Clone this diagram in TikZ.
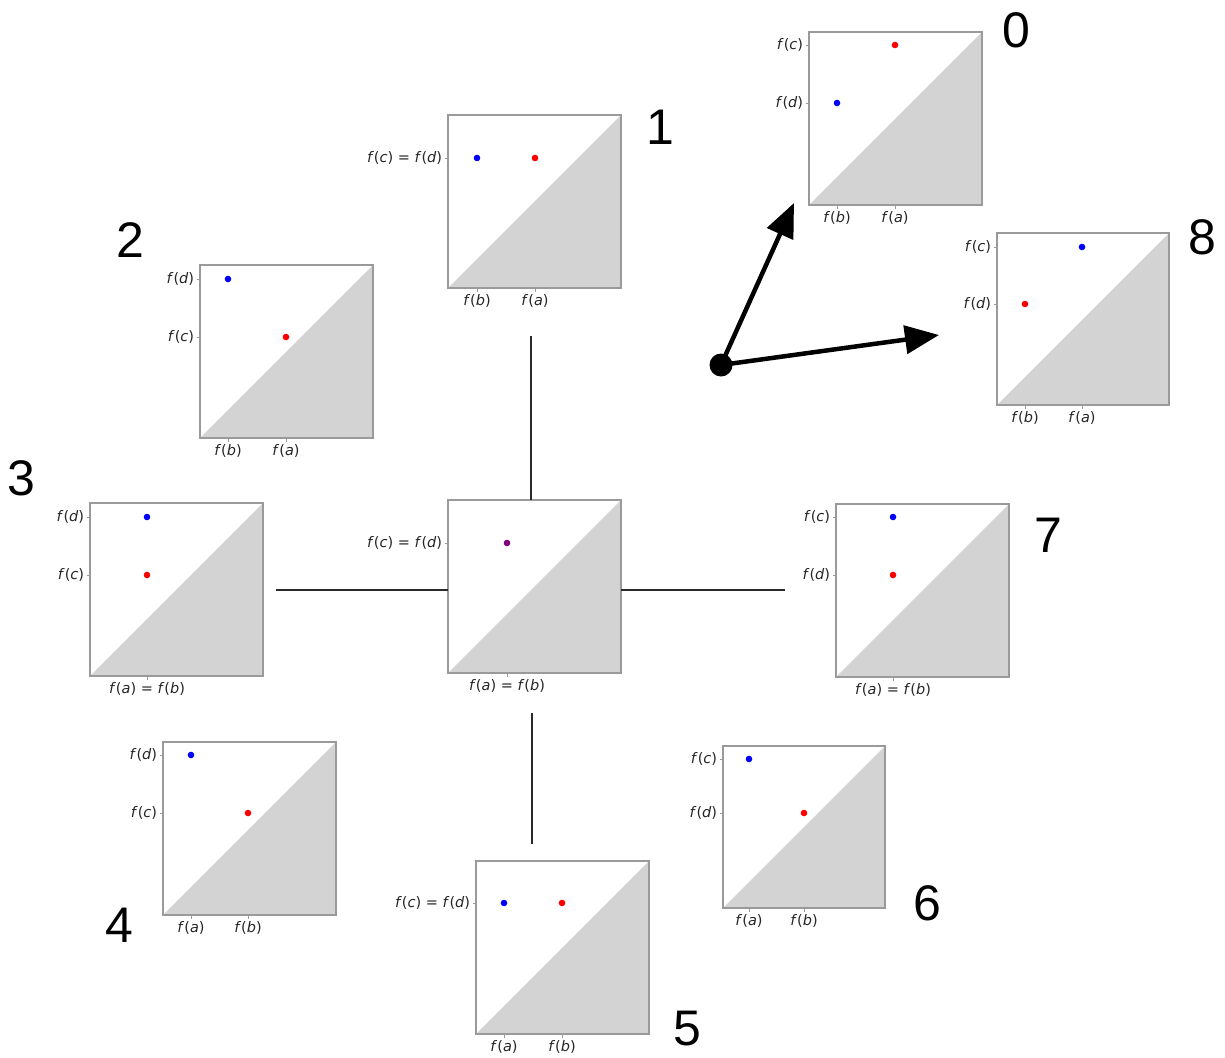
\documentclass[tikz,border=0pt]{standalone}
\usepackage{fontspec}
\usetikzlibrary{arrows.meta,calc}
\newfontfamily\labfont{DejaVu Sans}
\newfontfamily\numfont{Liberation Sans}
\definecolor{panelgray}{HTML}{D3D3D3}
\definecolor{framegray}{HTML}{9A9A9A}
\definecolor{mypurple}{RGB}{128,0,128}
\definecolor{linedark}{HTML}{2A2A2A}
\newcommand\fx[1]{\textit{f}(\textit{#1})}
\newcommand\Panel[4]{%
  \node[panelbox, minimum size=#4pt] (#1) at ({#2+#4/2},{#3+#4/2}) {};}
\newcommand\XT[3]{%
  \coordinate (xt) at (#2,0);
  \draw[tickline] (xt |- #1.south) -- ++(0,3.5) node[xlab] {#3};}
\newcommand\YT[3]{%
  \coordinate (yt) at (0,#2);
  \draw[tickline] (yt -| #1.west) -- ++(-3.5,0) node[ylab] {#3};}
\newcommand\Pt[3]{\fill[#1] (#2,#3) circle (3.3pt);}
\tikzset{
  panelbox/.style={draw=framegray, fill=white, line width=1.2pt, inner sep=0pt, outer sep=0pt,
    path picture={\fill[panelgray] (path picture bounding box.south west) -- (path picture bounding box.south east) -- (path picture bounding box.north east) -- cycle;}},
  tickline/.style={draw=framegray, line width=0.8pt},
  xlab/.style={anchor=north, inner sep=3pt, font=\labfont\fontsize{14.5}{16}\selectfont, text=black!85},
  ylab/.style={anchor=east, inner sep=2pt, font=\labfont\fontsize{14.5}{16}\selectfont, text=black!85},
  numlab/.style={font=\numfont\fontsize{50}{50}\selectfont, inner sep=0pt},
  connector/.style={draw=linedark, line width=2.2pt},
  bigarrow/.style={line width=4.5pt, -{Triangle[length=34pt,width=28pt]}},
}
\begin{document}
\begin{tikzpicture}[x=1pt,y=-1pt]
\fill[white] (0,0) rectangle (1225,1057);
\useasboundingbox (0,0) rectangle (1225,1057);

% panel 0
\Panel{p0}{809}{32}{173}
\XT{p0}{837}{\fx{b}} \XT{p0}{895}{\fx{a}}
\YT{p0}{45}{\fx{c}} \YT{p0}{103}{\fx{d}}
\Pt{red}{895}{45} \Pt{blue}{837}{103}
\node[numlab] (n0) at (1016,30) {0};

% panel 1
\Panel{p1}{448}{115}{173}
\XT{p1}{477}{\fx{b}} \XT{p1}{535}{\fx{a}}
\YT{p1}{158}{\fx{c} = \fx{d}}
\Pt{blue}{477}{158} \Pt{red}{535}{158}
\node[numlab] (n1) at (660,127) {1};

% panel 2
\Panel{p2}{200}{265}{173}
\XT{p2}{228}{\fx{b}} \XT{p2}{286}{\fx{a}}
\YT{p2}{279}{\fx{d}} \YT{p2}{337}{\fx{c}}
\Pt{blue}{228}{279} \Pt{red}{286}{337}
\node[numlab] (n2) at (130,240) {2};

% panel 3
\Panel{p3}{90}{503}{173}
\XT{p3}{147}{\fx{a} = \fx{b}}
\YT{p3}{517}{\fx{d}} \YT{p3}{575}{\fx{c}}
\Pt{blue}{147}{517} \Pt{red}{147}{575}
\node[numlab] (n3) at (21,478) {3};

% center panel
\Panel{pc}{448}{500}{173}
\XT{pc}{507}{\fx{a} = \fx{b}}
\YT{pc}{543}{\fx{c} = \fx{d}}
\Pt{mypurple}{507}{543}

% panel 4
\Panel{p4}{163}{742}{173}
\XT{p4}{191}{\fx{a}} \XT{p4}{248}{\fx{b}}
\YT{p4}{755}{\fx{d}} \YT{p4}{813}{\fx{c}}
\Pt{blue}{191}{755} \Pt{red}{248}{813}
\node[numlab] (n4) at (119,925) {4};

% panel 5
\Panel{p5}{476}{861}{173}
\XT{p5}{504}{\fx{a}} \XT{p5}{562}{\fx{b}}
\YT{p5}{903}{\fx{c} = \fx{d}}
\Pt{blue}{504}{903} \Pt{red}{562}{903}
\node[numlab] (n5) at (687,1029) {5};

% panel 6
\Panel{p6}{723}{746}{162}
\XT{p6}{749}{\fx{a}} \XT{p6}{804}{\fx{b}}
\YT{p6}{759}{\fx{c}} \YT{p6}{813}{\fx{d}}
\Pt{blue}{749}{759} \Pt{red}{804}{813}
\node[numlab] (n6) at (927,903) {6};

% panel 7
\Panel{p7}{836}{504}{173}
\XT{p7}{893}{\fx{a} = \fx{b}}
\YT{p7}{517}{\fx{c}} \YT{p7}{575}{\fx{d}}
\Pt{blue}{893}{517} \Pt{red}{893}{575}
\node[numlab] (n7) at (1048,535) {7};

% panel 8
\Panel{p8}{997}{233}{172}
\XT{p8}{1025}{\fx{b}} \XT{p8}{1082}{\fx{a}}
\YT{p8}{247}{\fx{c}} \YT{p8}{304}{\fx{d}}
\Pt{blue}{1082}{247} \Pt{red}{1025}{304}
\node[numlab] (n8) at (1202,237) {8};

% connectors
\coordinate (ctop) at (531,336);
\coordinate (cleft) at (276,590);
\coordinate (cright) at (785,590);
\coordinate (cbot1) at (532,713);
\coordinate (cbot2) at (532,844);
\draw[connector] (ctop) -- (ctop |- pc.north);
\draw[connector] (cleft) -- (cleft -| pc.west);
\draw[connector] (pc.east |- cright) -- (cright);
\draw[connector] (cbot1) -- (cbot2);

% arrows
\node[circle, fill=black, minimum size=23pt, inner sep=0pt] (origin) at (721,365) {};
\coordinate (tip0) at (794,203);
\coordinate (tip8) at (939,335);
\draw[bigarrow] (origin.center) -- (tip0);
\draw[bigarrow] (origin.center) -- (tip8);
\end{tikzpicture}
\end{document}
